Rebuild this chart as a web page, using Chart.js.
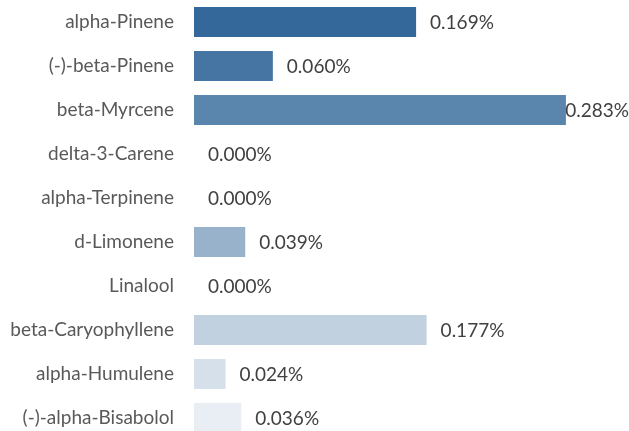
<!DOCTYPE html>
<html>
<head>
<meta charset="utf-8">
<script src="https://cdn.jsdelivr.net/npm/chart.js@4"></script>
<style>
  html, body { margin: 0; padding: 0; background: #fff; overflow: hidden; }
  canvas { display: block; }
</style>
</head>
<body>
<canvas id="terp" width="629" height="440"></canvas>
<script>
const terpenes = ['alpha-Pinene', '(-)-beta-Pinene', 'beta-Myrcene', 'delta-3-Carene', 'alpha-Terpinene',
  'd-Limonene', 'Linalool', 'beta-Caryophyllene', 'alpha-Humulene', '(-)-alpha-Bisabolol'];
const percents = [0.169, 0.060, 0.283, 0.000, 0.000, 0.039, 0.000, 0.177, 0.024, 0.036];
const barColors = ['#34679a', '#4674a3', '#5a86ae', '#6f95b9', '#839fc2', '#98b2cc', '#abc0d5', '#c1d1e0', '#d5e0ea', '#e8eef4'];

const FONT = 'Lato, "Open Sans", sans-serif';

// value labels to the right of each bar, pushed back inside at the right edge
const valueLabels = {
  id: 'valueLabels',
  afterDatasetsDraw(chart) {
    const { ctx, chartArea } = chart;
    const meta = chart.getDatasetMeta(0);
    ctx.save();
    ctx.font = '19px ' + FONT;
    ctx.fillStyle = '#404040';
    ctx.textBaseline = 'middle';
    ctx.textAlign = 'left';
    meta.data.forEach((bar, i) => {
      const txt = percents[i].toFixed(3) + '%';
      const w = ctx.measureText(txt).width;
      let x = bar.x + 14;
      if (x + w > chartArea.right) x = chartArea.right - w;
      ctx.fillText(txt, x, bar.y + 1);
    });
    ctx.restore();
  }
};

new Chart(document.getElementById('terp'), {
  type: 'bar',
  data: {
    labels: terpenes,
    datasets: [{
      data: percents,
      backgroundColor: barColors,
      borderWidth: 0,
      barPercentage: 0.68,
      categoryPercentage: 1.0,
    }],
  },
  options: {
    indexAxis: 'y',
    responsive: false,
    animation: false,
    layout: { padding: 0 },
    plugins: {
      legend: { display: false },
      tooltip: { enabled: false },
    },
    scales: {
      x: {
        display: false,
        min: 0,
        max: 0.331,
      },
      y: {
        grid: { display: false, drawTicks: false },
        border: { display: false },
        ticks: { color: '#595959', padding: 20, font: { family: FONT, size: 19 } },
        afterFit(scale) {
          scale.width = 194;
          // tick padding also pads top/bottom; the plot runs edge to edge
          scale.paddingTop = 0;
          scale.paddingBottom = 0;
        },
      },
    },
  },
  plugins: [valueLabels],
});
</script>
</body>
</html>
